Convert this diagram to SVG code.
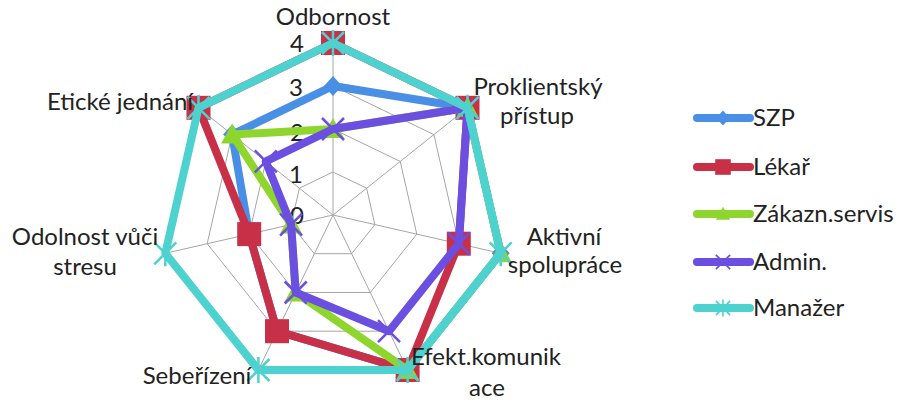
<svg xmlns="http://www.w3.org/2000/svg" width="899" height="404" viewBox="0 0 899 404">
<style>
text{font-family:Lato,"Open Sans","Liberation Sans",sans-serif;fill:#222;stroke:none;font-size:24px}
.grid{fill:none;stroke:#a6a6a6;stroke-width:1}
.s{fill:none;stroke-width:8;stroke-linejoin:round;stroke-linecap:round}
.szp{stroke:#4a8fe6;fill:#4a8fe6}
.lek{stroke:#c83048;fill:#c83048}
.zak{stroke:#8ed62e;fill:#8ed62e}
.adm{stroke:#6a4fe0;fill:#6a4fe0}
.man{stroke:#4ed2d0;fill:#4ed2d0}
</style>
<defs>
<path id="dia" d="M0,-10 L9,0 L0,10 L-9,0 Z" stroke="none"/>
<rect id="sq" x="-12" y="-12" width="24" height="24" stroke="none"/>
<path id="tri" d="M0,-11 L11,9 L-11,9 Z" stroke="none"/>
<path id="xm" d="M-11,-11 L11,11 M11,-11 L-11,11" stroke-width="2.5"/>
<path id="st" d="M-11,-11 L11,11 M11,-11 L-11,11 M0,-13 L0,13" stroke-width="2.5"/>
</defs>
<g id="grid">
<polygon class="grid" points="333,172 366.6,188.2 374.9,224.6 351.7,253.7 314.3,253.7 291.1,224.6 299.4,188.2"/>
<polygon class="grid" points="333,129 400.2,161.4 416.8,234.1 370.3,292.5 295.7,292.5 249.2,234.1 265.8,161.4"/>
<polygon class="grid" points="333,86 433.9,134.6 458.8,243.7 389,331.2 277,331.2 207.2,243.7 232.1,134.6"/>
<polygon class="grid" points="333,43 467.5,107.8 500.7,253.3 407.6,370 258.4,370 165.3,253.3 198.5,107.8"/>
<path class="grid" d="M333,215 L333,43 M333,215 L467.5,107.8 M333,215 L500.7,253.3 M333,215 L407.6,370 M333,215 L258.4,370 M333,215 L165.3,253.3 M333,215 L198.5,107.8"/>
</g>
<g id="ticks">
<text x="297" y="52" text-anchor="middle">4</text>
<text x="296" y="96" text-anchor="middle">3</text>
<text x="297" y="141" text-anchor="middle">2</text>
<text x="296" y="183" text-anchor="middle">1</text>
<text x="297" y="224" text-anchor="middle">0</text>
</g>
<g id="series-SZP" class="szp">
<polygon class="s szp" style="fill:none" points="333,86 467.5,107.8 500.7,253.3 407.6,370 277,331.2 249.2,234.1 232.1,134.6"/>
<use href="#dia" x="333" y="86"/><use href="#dia" x="467.5" y="107.8"/><use href="#dia" x="500.7" y="253.3"/><use href="#dia" x="407.6" y="370"/><use href="#dia" x="277" y="331.2"/><use href="#dia" x="249.2" y="234.1"/><use href="#dia" x="232.1" y="134.6"/>
</g>
<g id="series-Lekar" class="lek">
<polygon class="s lek" style="fill:none" points="333,43 467.5,107.8 458.8,243.7 407.6,370 277,331.2 249.2,234.1 198.5,107.8"/>
<use href="#sq" x="333" y="43"/><use href="#sq" x="467.5" y="107.8"/><use href="#sq" x="458.8" y="243.7"/><use href="#sq" x="407.6" y="370"/><use href="#sq" x="277" y="331.2"/><use href="#sq" x="249.2" y="234.1"/><use href="#sq" x="198.5" y="107.8"/>
</g>
<g id="series-Zakazn" class="zak">
<polygon class="s zak" style="fill:none" points="333,129 467.5,107.8 500.7,253.3 407.6,370 295.7,292.5 291.1,224.6 232.1,134.6"/>
<use href="#tri" x="333" y="129"/><use href="#tri" x="467.5" y="107.8"/><use href="#tri" x="500.7" y="253.3"/><use href="#tri" x="407.6" y="370"/><use href="#tri" x="295.7" y="292.5"/><use href="#tri" x="291.1" y="224.6"/><use href="#tri" x="232.1" y="134.6"/>
</g>
<g id="series-Admin" class="adm">
<polygon class="s adm" style="fill:none" points="333,129 467.5,107.8 458.8,243.7 389,331.2 295.7,292.5 291.1,224.6 265.8,161.4"/>
<use href="#xm" x="333" y="129"/><use href="#xm" x="467.5" y="107.8"/><use href="#xm" x="458.8" y="243.7"/><use href="#xm" x="389" y="331.2"/><use href="#xm" x="295.7" y="292.5"/><use href="#xm" x="291.1" y="224.6"/><use href="#xm" x="265.8" y="161.4"/>
</g>
<g id="series-Manazer" class="man">
<polygon class="s man" style="fill:none" points="333,43 467.5,107.8 500.7,253.3 407.6,370 258.4,370 165.3,253.3 198.5,107.8"/>
<use href="#st" x="333" y="43"/><use href="#st" x="467.5" y="107.8"/><use href="#st" x="500.7" y="253.3"/><use href="#st" x="407.6" y="370"/><use href="#st" x="258.4" y="370"/><use href="#st" x="165.3" y="253.3"/><use href="#st" x="198.5" y="107.8"/>
</g>
<g id="axis-labels">
<text x="333" y="25" text-anchor="middle">Odbornost</text>
<text x="538" y="95" text-anchor="middle">Proklientský</text>
<text x="537" y="124" text-anchor="middle">přístup</text>
<text x="564" y="245" text-anchor="middle">Aktivní</text>
<text x="565" y="273" text-anchor="middle">spolupráce</text>
<text x="486" y="365" text-anchor="middle">Efekt.komunik</text>
<text x="487" y="396" text-anchor="middle">ace</text>
<text x="197" y="384" text-anchor="middle">Sebeřízení</text>
<text x="85" y="245" text-anchor="middle">Odolnost vůči</text>
<text x="85" y="275" text-anchor="middle">stresu</text>
<text x="120" y="110" text-anchor="middle">Etické jednání</text>
</g>
<g id="legend">
<g id="leg-SZP" class="szp"><line x1="697" y1="118" x2="750" y2="118" class="s szp"/><use href="#dia" transform="translate(723 118) scale(0.75)"/><text x="753" y="126">SZP</text></g>
<g id="leg-Lekar" class="lek"><line x1="697" y1="167" x2="750" y2="167" class="s lek"/><use href="#sq" transform="translate(723 167) scale(0.65)"/><text x="753" y="175">Lékař</text></g>
<g id="leg-Zakazn" class="zak"><line x1="697" y1="214" x2="750" y2="214" class="s zak"/><use href="#tri" transform="translate(723 214) scale(0.65)"/><text x="753" y="222">Zákazn.servis</text></g>
<g id="leg-Admin" class="adm"><line x1="697" y1="262" x2="750" y2="262" class="s adm"/><use href="#xm" transform="translate(723 262) scale(0.65)"/><text x="753" y="270">Admin.</text></g>
<g id="leg-Manazer" class="man"><line x1="697" y1="308" x2="750" y2="308" class="s man"/><use href="#st" transform="translate(723 308) scale(0.65)"/><text x="753" y="316">Manažer</text></g>
</g>
</svg>
